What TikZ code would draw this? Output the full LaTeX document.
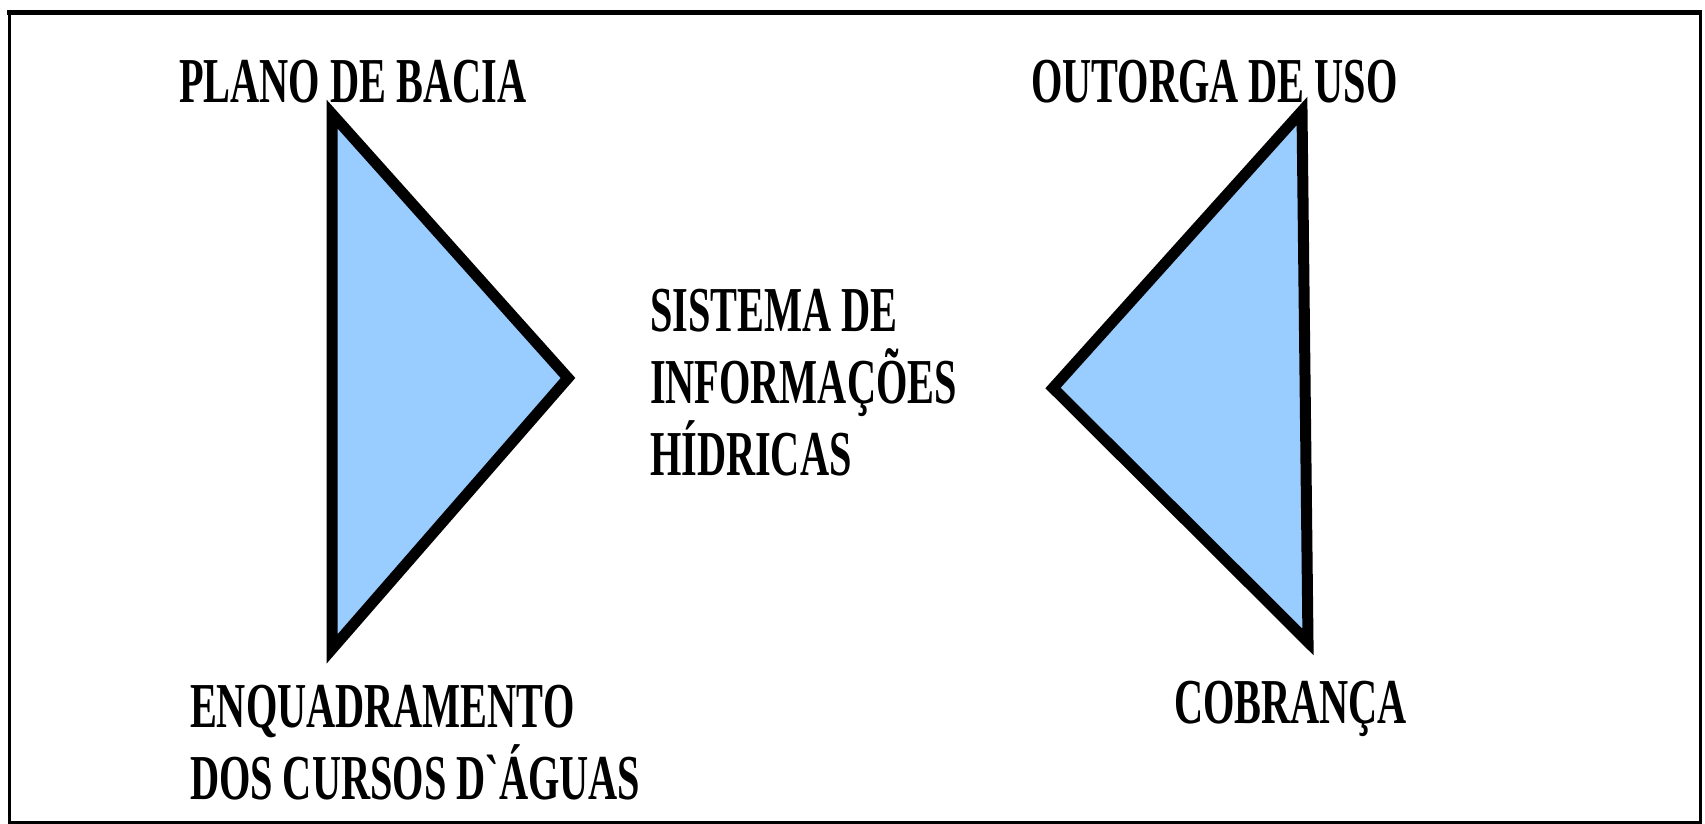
\documentclass[tikz,border=0pt]{standalone}
\usepackage{fontspec}
\newfontfamily\condserif[FakeStretch=0.63]{Liberation Serif}
\definecolor{triblue}{HTML}{99CCFF}
\begin{document}
\begin{tikzpicture}[x=1pt,y=-1pt,
  lbl/.style={inner sep=0pt, outer sep=0pt, anchor=base west, align=left,
    font=\condserif\bfseries\fontsize{64}{72}\selectfont},
  tri/.style={draw=black, fill=triblue, line width=11pt, line join=miter}]
\useasboundingbox (0,0) rectangle (1705,824);
% frame
\draw[line width=3pt] (9,13) rectangle (1700,822);
\draw[line width=5pt] (7,13) -- (1702,13);
% triangles
\coordinate (l1) at (332,114);
\coordinate (l2) at (568,378);
\coordinate (l3) at (332,649);
\draw[tri] (l1) -- (l2) -- (l3) -- cycle;
\coordinate (r1) at (1302,111);
\coordinate (r2) at (1053,388);
\coordinate (r3) at (1308,642);
\draw[tri] (r1) -- (r2) -- (r3) -- cycle;
% labels
\node[lbl] (plano) at (179,103) {PLANO DE BACIA};
\node[lbl] (outorga) at (1031,103) {OUTORGA DE USO};
\node[lbl] (sistema) at (650,475) {SISTEMA DE\\INFORMAÇÕES\\HÍDRICAS};
\node[lbl] (enquad) at (190,799) {ENQUADRAMENTO\\DOS CURSOS D`ÁGUAS};
\node[lbl] (cobranca) at (1174,723) {COBRANÇA};
\end{tikzpicture}
\end{document}
